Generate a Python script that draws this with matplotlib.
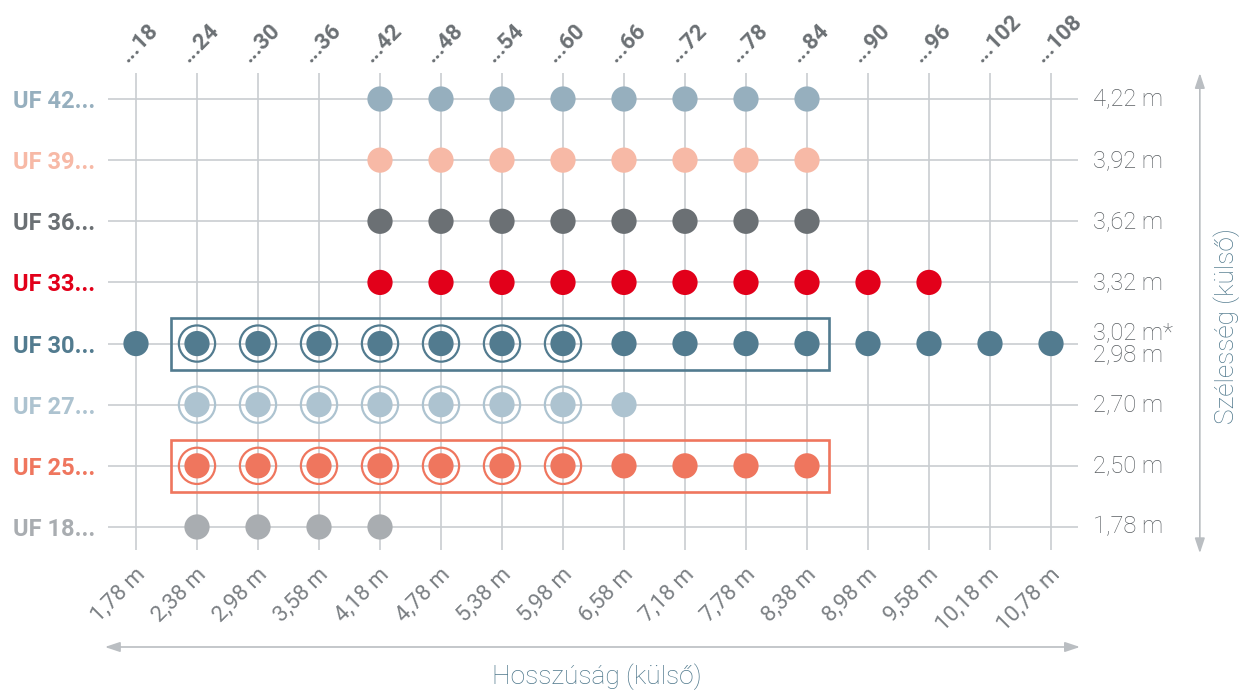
import matplotlib
matplotlib.use("Agg")
import matplotlib.pyplot as plt
from matplotlib.patches import Rectangle

# ---------------- data ----------------
codes = ["...18", "...24", "...30", "...36", "...42", "...48", "...54", "...60",
         "...66", "...72", "...78", "...84", "...90", "...96", "...102", "...108"]
lengths = ["1,78 m", "2,38 m", "2,98 m", "3,58 m", "4,18 m", "4,78 m", "5,38 m", "5,98 m",
           "6,58 m", "7,18 m", "7,78 m", "8,38 m", "8,98 m", "9,58 m", "10,18 m", "10,78 m"]
models = ["UF 42...", "UF 39...", "UF 36...", "UF 33...", "UF 30...", "UF 27...", "UF 25...", "UF 18..."]
widths = ["4,22 m", "3,92 m", "3,62 m", "3,32 m", "3,02 m*\n2,98 m", "2,70 m", "2,50 m", "1,78 m"]
colors = ["#96afbe", "#f7b9a6", "#6b7074", "#e2001a", "#527b8f", "#adc3d0", "#ef765e", "#a9adb1"]

avail_42 = ["...42", "...48", "...54", "...60", "...66", "...72", "...78", "...84"]
avail_39 = ["...42", "...48", "...54", "...60", "...66", "...72", "...78", "...84"]
avail_36 = ["...42", "...48", "...54", "...60", "...66", "...72", "...78", "...84"]
avail_33 = ["...42", "...48", "...54", "...60", "...66", "...72", "...78", "...84", "...90", "...96"]
avail_30 = codes[:]
avail_27 = ["...24", "...30", "...36", "...42", "...48", "...54", "...60", "...66"]
avail_25 = ["...24", "...30", "...36", "...42", "...48", "...54", "...60", "...66", "...72", "...78", "...84"]
avail_18 = ["...24", "...30", "...36", "...42"]
availability = [avail_42, avail_39, avail_36, avail_33, avail_30, avail_27, avail_25, avail_18]

ringed_models = ["UF 30...", "UF 27...", "UF 25..."]
ringed_codes = ["...24", "...30", "...36", "...42", "...48", "...54", "...60"]
boxed_models = ["UF 30...", "UF 25..."]
boxed_span = ["...24", "...84"]

# ---------------- styling ----------------
GRID = "#c9cdd1"
TXT = "#5a5f63"
AXLAB = "#4f788c"
LIGHT = ["Roboto", "DejaVu Sans"]
BOLD = ["Roboto", "DejaVu Sans"]

fig = plt.figure(figsize=(12.47, 6.93), dpi=100)
ax = fig.add_axes([0, 0, 1, 1])
cs, c0 = 61.0, 136.0
rs, r0 = 61.14, 99.0
ax.set_xlim(-c0 / cs, (1247 - c0) / cs)
ax.set_ylim((693 - r0) / rs, -r0 / rs)
ax.axis("off")

ncol = len(codes)
nrow = len(models)
xs = list(range(ncol))
ys = list(range(nrow))

# grid
for i in xs:
    ax.plot([i, i], [-0.43, nrow - 1 + 0.38], color=GRID, lw=1.2, zorder=1, solid_capstyle="butt")
for j in ys:
    ax.plot([-0.46, ncol - 1 + 0.44], [j, j], color=GRID, lw=1.2, zorder=1, solid_capstyle="butt")

# dots
for j, (m, av, col) in enumerate(zip(models, availability, colors)):
    px = [codes.index(c) for c in av]
    ax.scatter(px, [j] * len(px), s=330, color=col, edgecolors="none", zorder=3)
    if m in ringed_models:
        rx = [codes.index(c) for c in ringed_codes]
        ax.scatter(rx, [j] * len(rx), s=680, facecolors="none", edgecolors=col,
                   linewidths=1.6, zorder=3)
    if m in boxed_models:
        a, b = codes.index(boxed_span[0]), codes.index(boxed_span[1])
        ax.add_patch(Rectangle((a - 0.43, j - 0.425), (b - a) + 0.79, 0.85,
                               fill=False, edgecolor=col, lw=1.9, zorder=4))

# left labels
for j, (m, col) in enumerate(zip(models, colors)):
    ax.text(-0.67, j, m, ha="right", va="center_baseline", color=col,
            fontsize=17, fontweight="bold", family=BOLD)

# right labels
for j, w in enumerate(widths):
    ax.text(15.69, j, w, ha="left", va="center", color=TXT, fontsize=17,
            fontweight="light", family=LIGHT, linespacing=0.95)

# top labels
for i, c in enumerate(codes):
    ax.text(i - 0.13, -0.59, c, rotation=45, rotation_mode="anchor", ha="left",
            va="baseline", color="#6b7074", fontsize=16, fontweight="bold", family=BOLD)

# bottom labels
for i, l in enumerate(lengths):
    ax.text(i + 0.1, 7.72, l, rotation=45, rotation_mode="anchor", ha="right",
            va="center", color="#7a7f83", fontsize=16, fontweight="normal", family=LIGHT)

# axis arrows
ax.annotate("", xy=(15.475, 8.963), xytext=(-0.51, 8.963),
            arrowprops=dict(arrowstyle="<|-|>,head_length=0.9,head_width=0.3",
                            color="#babec2", lw=1.2, shrinkA=0, shrinkB=0))
ax.annotate("", xy=(17.44, -0.425), xytext=(17.44, 7.43),
            arrowprops=dict(arrowstyle="<|-|>,head_length=0.9,head_width=0.3",
                            color="#babec2", lw=1.2, shrinkA=0, shrinkB=0))
ax.text(7.557, 9.45, "Hosszúság (külső)", ha="center", va="center", color=AXLAB,
        fontsize=19, fontweight="light", family=LIGHT)
ax.text(17.885, 3.71, "Szélesség (külső)", ha="center", va="center", rotation=90,
        color=AXLAB, fontsize=19, fontweight="light", family=LIGHT)

fig.savefig("out.png", dpi=100, facecolor="white")
